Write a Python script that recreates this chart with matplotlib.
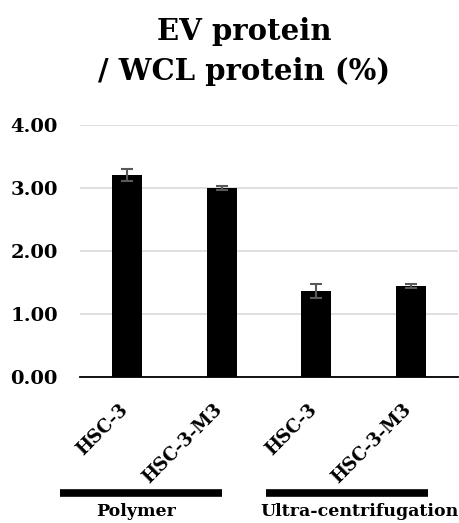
import matplotlib
matplotlib.use('Agg')
import matplotlib.pyplot as plt
import matplotlib.transforms as mtransforms
import numpy as np

# EV protein yield relative to whole-cell lysate protein
cells = ['HSC-3', 'HSC-3-M3', 'HSC-3', 'HSC-3-M3']
ratio = [3.20, 3.00, 1.36, 1.44]
err = [0.09, 0.03, 0.11, 0.03]
methods = ['Polymer', 'Ultra-centrifugation']
method_span = [(-0.71, 1.0), (1.47, 3.18)]
method_label_x = [0.09, 2.46]
yticks = [0, 1, 2, 3, 4]

plt.rcParams['font.family'] = 'DejaVu Serif'
plt.rcParams['font.weight'] = 'bold'

fig = plt.figure(figsize=(4.6, 5.23), dpi=100)
ax = fig.add_axes([0.1739, 0.2797, 0.8217, 0.4818])

x = np.arange(len(cells))
ax.bar(x, ratio, width=0.32, color='black', zorder=3)
ax.errorbar(x, ratio, yerr=err, fmt='none', ecolor='#595959', elinewidth=1.5,
            capsize=4.3, capthick=1.5, zorder=4)

ax.set_xlim(-0.5, 3.5)
ax.set_ylim(0, 4)
ax.set_yticks(yticks)
ax.set_yticklabels(['%.2f' % v for v in yticks], fontsize=14, fontweight='bold')
ax.tick_params(axis='y', length=0, pad=16)
ax.yaxis.grid(True, color='#d9d9d9', linewidth=1.2, zorder=0)
ax.set_axisbelow(True)
for s in ['top', 'right', 'left']:
    ax.spines[s].set_visible(False)
ax.spines['bottom'].set_linewidth(1.3)

ax.set_xticks(x)
ax.set_xticklabels(cells, rotation=45, ha='right', rotation_mode='anchor',
                   fontsize=13, fontweight='bold')
ax.tick_params(axis='x', length=0, pad=10)
shift = mtransforms.ScaledTranslation(-6 / 72, -7 / 72, fig.dpi_scale_trans)
for lab in ax.get_xticklabels():
    lab.set_transform(lab.get_transform() + shift)

# group bars and names under the category labels
trans = ax.get_xaxis_transform()
for name, (a, b), tx in zip(methods, method_span, method_label_x):
    ax.plot([a, b], [-0.46, -0.46], color='black', linewidth=5.5,
            solid_capstyle='butt', transform=trans, clip_on=False)
    ax.text(tx, -0.535, name, transform=trans, ha='center', va='center',
            fontsize=12.5, fontweight='bold')

fig.text(0.53, 0.902, 'EV protein\n/ WCL protein (%)', ha='center', va='center',
         multialignment='center', fontsize=21, fontweight='bold', linespacing=1.5)

fig.savefig('out.png', dpi=100)
